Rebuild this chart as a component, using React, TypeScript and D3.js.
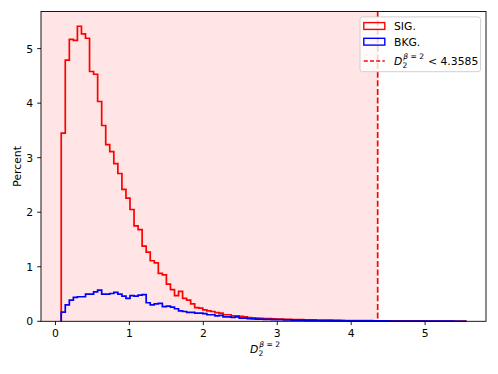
import React from "react";
import * as d3 from "d3";

// histogram range and bin count
const histRange = [0.078, 5.55];
const nBins = 100;

// percent per bin, signal
const sigValues = [
  3.45, 4.79, 5.17, 5.15, 5.41, 5.27, 5.19, 4.58, 4.53, 4.03,
  3.59, 3.24, 3.11, 2.89, 2.71, 2.42, 2.26, 2.05, 1.75, 1.68,
  1.38, 1.27, 1.11, 1.07, 0.88, 0.85, 0.68, 0.58, 0.47, 0.55,
  0.42, 0.39, 0.32, 0.25, 0.24, 0.21, 0.19, 0.18, 0.16, 0.15,
  0.12, 0.12, 0.1, 0.1, 0.09, 0.08, 0.07, 0.065, 0.06, 0.055,
  0.05, 0.05, 0.045, 0.04, 0.04, 0.035, 0.035, 0.03, 0.03, 0.03,
  0.025, 0.025, 0.025, 0.02, 0.02, 0.02, 0.02, 0.018, 0.017, 0.016,
  0.015, 0.015, 0.014, 0.013, 0.012, 0.012, 0.011, 0.01, 0.01, 0.01,
  0.009, 0.009, 0.008, 0.008, 0.007, 0.007, 0.007, 0.006, 0.006, 0.006,
  0.005, 0.005, 0.005, 0.004, 0.004, 0.004, 0.003, 0.003, 0.003, 0.002,
];

// percent per bin, background
const bkgValues = [
  0.17, 0.3, 0.39, 0.44, 0.45, 0.45, 0.5, 0.5, 0.54, 0.57,
  0.5, 0.5, 0.51, 0.53, 0.5, 0.46, 0.42, 0.47, 0.46, 0.48,
  0.49, 0.34, 0.3, 0.32, 0.33, 0.27, 0.28, 0.26, 0.23, 0.19,
  0.18, 0.165, 0.165, 0.15, 0.15, 0.14, 0.12, 0.12, 0.1, 0.11,
  0.08, 0.08, 0.07, 0.08, 0.06, 0.06, 0.05, 0.045, 0.04, 0.04,
  0.035, 0.035, 0.03, 0.03, 0.03, 0.025, 0.025, 0.022, 0.02, 0.02,
  0.018, 0.017, 0.016, 0.015, 0.014, 0.013, 0.012, 0.012, 0.011, 0.01,
  0.01, 0.009, 0.009, 0.008, 0.008, 0.007, 0.007, 0.007, 0.006, 0.006,
  0.006, 0.005, 0.005, 0.005, 0.004, 0.004, 0.004, 0.004, 0.003, 0.003,
  0.003, 0.003, 0.002, 0.002, 0.002, 0.002, 0.002, 0.001, 0.001, 0.001,
];

const cutValue = 4.3585;
const xTicks = [0, 1, 2, 3, 4, 5];
const yTicks = [0, 1, 2, 3, 4, 5];
const legendLabels = ["SIG.", "BKG."];

const W = 498, H = 374;
const left = 41, right = 486, top = 11.5, bottom = 321.3;
const FONT = "'DejaVu Sans', sans-serif";
const FS = 10.8;

function stepPath(values, x, y) {
  const width = (histRange[1] - histRange[0]) / nBins;
  const pts = [[histRange[0], 0]];
  values.forEach((v, i) => {
    const e0 = histRange[0] + i * width;
    pts.push([e0, v], [e0 + width, v]);
  });
  pts.push([histRange[1], 0]);
  return d3.line().x((d) => x(d[0])).y((d) => y(d[1]))(pts);
}

function MathD({ x, y, fs }) {
  // D_2^{beta=2}
  return (
    <g fontFamily={FONT}>
      <text x={x} y={y} fontSize={fs} fontStyle="italic">D</text>
      <text x={x + fs * 0.78} y={y + fs * 0.25} fontSize={fs * 0.7}>2</text>
      <text x={x + fs * 0.86} y={y - fs * 0.6} fontSize={fs * 0.7}>
        <tspan fontStyle="italic">β</tspan>
        <tspan dx={2.4}>=</tspan>
        <tspan dx={2.4}>2</tspan>
      </text>
    </g>
  );
}

export default function App() {
  const span = (histRange[1] - histRange[0]) * 0.05;
  const x = d3.scaleLinear().domain([histRange[0] - span, histRange[1] + span]).range([left, right]);
  const yMax = d3.max(sigValues.concat(bkgValues)) * 1.05;
  const y = d3.scaleLinear().domain([0, yMax]).range([bottom, top]);
  const colors = ["#ff0000", "#0000ff"];

  const lx = 360, ly = 16.9, lw = 120.6, lh = 54.8;
  const rowY = [26, 41.7, 61];

  return (
    <div style={{ position: "absolute", left: 0, top: 0 }}>
      <svg width={W} height={H} style={{ display: "block" }}>
        <rect width={W} height={H} fill="#fff" />
        <rect x={left} y={top} width={x(cutValue) - left} height={bottom - top} fill="#ff0000" fillOpacity={0.1} />
        {[sigValues, bkgValues].map((vals, i) => (
          <path key={i} d={stepPath(vals, x, y)} fill="none" stroke={colors[i]} strokeWidth={1.7} strokeLinejoin="miter" />
        ))}
        <line x1={x(cutValue)} x2={x(cutValue)} y1={top} y2={bottom} stroke="#ff0000" strokeWidth={1.7} strokeDasharray="6,2.6" />
        <rect x={left} y={top} width={right - left} height={bottom - top} fill="none" stroke="#000" strokeWidth={0.9} />

        {xTicks.map((t) => (
          <g key={t}>
            <line x1={x(t)} x2={x(t)} y1={bottom} y2={bottom + 3.8} stroke="#000" strokeWidth={0.9} />
            <text x={x(t)} y={337} textAnchor="middle" fontFamily={FONT} fontSize={FS}>{t}</text>
          </g>
        ))}
        {yTicks.map((t) => (
          <g key={t}>
            <line x1={left - 3.8} x2={left} y1={y(t)} y2={y(t)} stroke="#000" strokeWidth={0.9} />
            <text x={33} y={y(t) + 3.9} textAnchor="end" fontFamily={FONT} fontSize={FS}>{t}</text>
          </g>
        ))}
        <text transform={`translate(20.5,${(top + bottom) / 2}) rotate(-90)`} textAnchor="middle" fontFamily={FONT} fontSize={FS}>Percent</text>
        <MathD x={250} y={353} fs={FS} />

        <rect x={lx} y={ly} width={lw} height={lh} rx={2.5} fill="#fff" fillOpacity={0.8} stroke="#cccccc" strokeWidth={0.9} />
        {legendLabels.map((l, i) => (
          <g key={l}>
            <rect x={363.8} y={rowY[i] - 3.4} width={21} height={6.8} fill="none" stroke={colors[i]} strokeWidth={1.4} />
            <text x={394} y={rowY[i] + 3.9} fontFamily={FONT} fontSize={FS}>{l}</text>
          </g>
        ))}
        <line x1={363.8} x2={384.8} y1={rowY[2]} y2={rowY[2]} stroke="#ff0000" strokeWidth={1.6} strokeDasharray="4,2.2" />
        <MathD x={394} y={65} fs={FS} />
        <text x={428} y={65} fontFamily={FONT} fontSize={FS}>{"< " + cutValue}</text>
      </svg>
    </div>
  );
}
